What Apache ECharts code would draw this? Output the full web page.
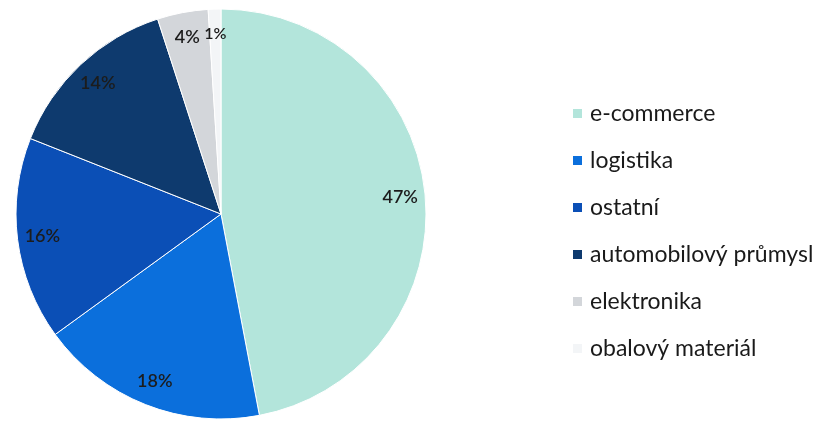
<!DOCTYPE html>
<html>
<head>
<meta charset="utf-8">
<script src="https://cdn.jsdelivr.net/npm/echarts@6/dist/echarts.min.js"></script>
<style>
  html, body { margin: 0; padding: 0; background: #fff; }
  #chart { width: 825px; height: 421px; }
</style>
</head>
<body>
<div id="chart"></div>
<script>
const categories = ['e-commerce', 'logistika', 'ostatní', 'automobilový průmysl', 'elektronika', 'obalový materiál']
const shares = [47, 18, 16, 14, 4, 1]
const colors = ['#b3e5db', '#0b6fdc', '#0b4fb6', '#0e3a6e', '#d3d6da', '#f3f5f7']

const chart = echarts.init(document.getElementById('chart'))

const pieData = categories.map((name, i) => ({
  name: name,
  value: shares[i],
  itemStyle: { color: colors[i] }
}))

// labels sit near the rim, so they are drawn by a transparent ring on top
const labelData = categories.map((name, i) => ({
  name: name,
  value: shares[i],
  label: { fontSize: i === 5 ? 16 : 18 }
}))

chart.setOption({
  animation: false,
  textStyle: { fontFamily: 'Lato, "Open Sans", sans-serif' },
  legend: {
    orient: 'vertical',
    left: 566,
    top: 97,
    itemWidth: 11,
    itemHeight: 11,
    itemGap: 24,
    icon: 'rect',
    data: categories,
    textStyle: { fontSize: 23, color: '#1a1a1a', padding: [0, 0, 0, 2] }
  },
  series: [
    {
      type: 'pie',
      center: [221, 214],
      radius: 205,
      startAngle: 90,
      clockwise: true,
      data: pieData,
      label: { show: false },
      labelLine: { show: false },
      itemStyle: { borderColor: '#fff', borderWidth: 1 }
    },
    {
      type: 'pie',
      center: [221, 214],
      radius: [149, 205],
      startAngle: 90,
      clockwise: true,
      silent: true,
      legendHoverLink: false,
      data: labelData,
      itemStyle: { color: 'rgba(0,0,0,0)' },
      label: {
        show: true,
        position: 'inside',
        formatter: '{c}%',
        color: '#1c1c1c',
        fontWeight: 600
      },
      labelLine: { show: false }
    }
  ]
})
</script>
</body>
</html>
